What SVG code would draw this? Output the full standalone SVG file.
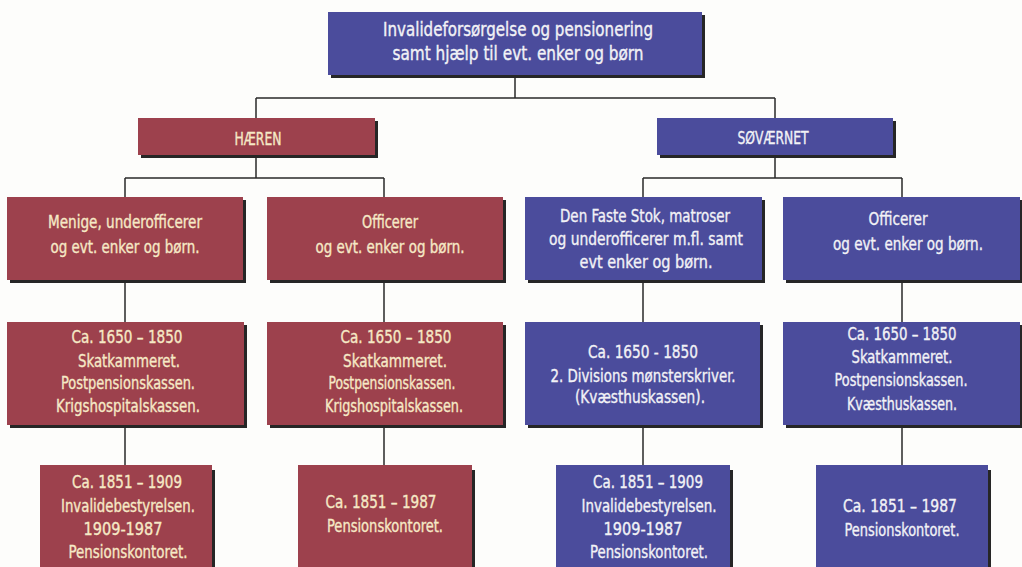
<svg xmlns="http://www.w3.org/2000/svg" width="1022" height="567" viewBox="0 0 1022 567">
<style>
.bg{fill:#fdfdfb}
.sh{fill:#262626}
.red{fill:#9d414d}
.blue{fill:#4b4c9c}
text{font-family:"DejaVu Sans Condensed","Liberation Sans Narrow","Liberation Sans",sans-serif;font-size:18px;text-anchor:middle;stroke-width:0.35px}
.tr{fill:#f6e9c6;stroke:#f6e9c6}
.tb{fill:#f2f2f6;stroke:#f2f2f6}
.big{font-size:19px}
.c{stroke:#2a2a2a;stroke-width:1.5;fill:none}
</style>
<rect class="bg" x="0" y="0" width="1022" height="567"/>
<g id="connectors">
<path class="c" d="M515 75V98M256 98H775M256 98V118M775 98V118"/>
<path class="c" d="M256 155V178M125 178H384M125 178V197M384 178V197"/>
<path class="c" d="M775 155V178M643 178H902M643 178V197M902 178V197"/>
<path class="c" d="M125 280V322M384 280V322M643 280V322M902 280V322"/>
<path class="c" d="M125 425V465M384 425V465M643 425V465M902 425V465"/>
</g>
<g id="root">
<rect class="sh" x="331" y="15" width="374" height="63"/>
<rect class="blue" x="328" y="12" width="374" height="63"/>
<text class="tb big" x="518" y="36" textLength="270" lengthAdjust="spacingAndGlyphs">Invalideforsørgelse og pensionering</text>
<text class="tb big" x="518" y="60" textLength="251" lengthAdjust="spacingAndGlyphs">samt hjælp til evt. enker og børn</text>
</g>
<g id="haeren">
<rect class="sh" x="141" y="121" width="237" height="37"/>
<rect class="red" x="138" y="118" width="237" height="37"/>
<text class="tr" x="258" y="145" textLength="47" lengthAdjust="spacingAndGlyphs">HÆREN</text>
</g>
<g id="sovaernet">
<rect class="sh" x="660" y="121" width="236" height="37"/>
<rect class="blue" x="657" y="118" width="236" height="37"/>
<text class="tb" x="773" y="144" textLength="71" lengthAdjust="spacingAndGlyphs">SØVÆRNET</text>
</g>
<g id="h-menige">
<rect class="sh" x="10" y="200" width="236" height="83"/>
<rect class="red" x="7" y="197" width="236" height="83"/>
<text class="tr" x="125" y="228" textLength="154" lengthAdjust="spacingAndGlyphs">Menige, underofficerer</text>
<text class="tr" x="125" y="253" textLength="149" lengthAdjust="spacingAndGlyphs">og evt. enker og børn.</text>
</g>
<g id="h-officerer">
<rect class="sh" x="270" y="200" width="236" height="83"/>
<rect class="red" x="267" y="197" width="236" height="83"/>
<text class="tr" x="390" y="228" textLength="56" lengthAdjust="spacingAndGlyphs">Officerer</text>
<text class="tr" x="390" y="253" textLength="149" lengthAdjust="spacingAndGlyphs">og evt. enker og børn.</text>
</g>
<g id="s-faste">
<rect class="sh" x="528" y="200" width="237" height="83"/>
<rect class="blue" x="525" y="197" width="237" height="83"/>
<text class="tb" x="645" y="222" textLength="170" lengthAdjust="spacingAndGlyphs">Den Faste Stok, matroser</text>
<text class="tb" x="646" y="245" textLength="194" lengthAdjust="spacingAndGlyphs">og underofficerer m.fl. samt</text>
<text class="tb" x="646" y="268" textLength="133" lengthAdjust="spacingAndGlyphs">evt enker og børn.</text>
</g>
<g id="s-officerer">
<rect class="sh" x="786" y="200" width="237" height="83"/>
<rect class="blue" x="783" y="197" width="237" height="83"/>
<text class="tb" x="898" y="225" textLength="59" lengthAdjust="spacingAndGlyphs">Officerer</text>
<text class="tb" x="908" y="250" textLength="150" lengthAdjust="spacingAndGlyphs">og evt. enker og børn.</text>
</g>
<g id="h-menige-1650">
<rect class="sh" x="10" y="325" width="237" height="103"/>
<rect class="red" x="7" y="322" width="237" height="103"/>
<text class="tr" x="127" y="343" textLength="111" lengthAdjust="spacingAndGlyphs">Ca. 1650 – 1850</text>
<text class="tr" x="129" y="367" textLength="102" lengthAdjust="spacingAndGlyphs">Skatkammeret.</text>
<text class="tr" x="128" y="389" textLength="134" lengthAdjust="spacingAndGlyphs">Postpensionskassen.</text>
<text class="tr" x="128" y="412" textLength="144" lengthAdjust="spacingAndGlyphs">Krigshospitalskassen.</text>
</g>
<g id="h-officerer-1650">
<rect class="sh" x="270" y="325" width="236" height="103"/>
<rect class="red" x="267" y="322" width="236" height="103"/>
<text class="tr" x="396" y="343" textLength="111" lengthAdjust="spacingAndGlyphs">Ca. 1650 – 1850</text>
<text class="tr" x="395" y="367" textLength="104" lengthAdjust="spacingAndGlyphs">Skatkammeret.</text>
<text class="tr" x="392" y="389" textLength="127" lengthAdjust="spacingAndGlyphs">Postpensionskassen.</text>
<text class="tr" x="394" y="412" textLength="138" lengthAdjust="spacingAndGlyphs">Krigshospitalskassen.</text>
</g>
<g id="s-faste-1650">
<rect class="sh" x="528" y="325" width="235" height="103"/>
<rect class="blue" x="525" y="322" width="235" height="103"/>
<text class="tb" x="643" y="358" textLength="110" lengthAdjust="spacingAndGlyphs">Ca. 1650 - 1850</text>
<text class="tb" x="643" y="382" textLength="185" lengthAdjust="spacingAndGlyphs">2. Divisions mønsterskriver.</text>
<text class="tb" x="640" y="403" textLength="130" lengthAdjust="spacingAndGlyphs">(Kvæsthuskassen).</text>
</g>
<g id="s-officerer-1650">
<rect class="sh" x="786" y="325" width="237" height="103"/>
<rect class="blue" x="783" y="322" width="237" height="103"/>
<text class="tb" x="902" y="340" textLength="109" lengthAdjust="spacingAndGlyphs">Ca. 1650 – 1850</text>
<text class="tb" x="902" y="363" textLength="101" lengthAdjust="spacingAndGlyphs">Skatkammeret.</text>
<text class="tb" x="901" y="386" textLength="133" lengthAdjust="spacingAndGlyphs">Postpensionskassen.</text>
<text class="tb" x="902" y="410" textLength="110" lengthAdjust="spacingAndGlyphs">Kvæsthuskassen.</text>
</g>
<g id="h-menige-1851">
<rect class="sh" x="43" y="470" width="172" height="100"/>
<rect class="red" x="40" y="465" width="172" height="105"/>
<text class="tr" x="127" y="488" textLength="110" lengthAdjust="spacingAndGlyphs">Ca. 1851 – 1909</text>
<text class="tr" x="128" y="512" textLength="134" lengthAdjust="spacingAndGlyphs">Invalidebestyrelsen.</text>
<text class="tr" x="123" y="535" textLength="79" lengthAdjust="spacingAndGlyphs">1909-1987</text>
<text class="tr" x="128" y="558" textLength="119" lengthAdjust="spacingAndGlyphs">Pensionskontoret.</text>
</g>
<g id="h-officerer-1851">
<rect class="sh" x="301" y="470" width="174" height="100"/>
<rect class="red" x="298" y="465" width="174" height="105"/>
<text class="tr" x="381" y="508" textLength="111" lengthAdjust="spacingAndGlyphs">Ca. 1851 – 1987</text>
<text class="tr" x="385" y="532" textLength="116" lengthAdjust="spacingAndGlyphs">Pensionskontoret.</text>
</g>
<g id="s-faste-1851">
<rect class="sh" x="559" y="470" width="174" height="100"/>
<rect class="blue" x="556" y="465" width="174" height="105"/>
<text class="tb" x="648" y="488" textLength="110" lengthAdjust="spacingAndGlyphs">Ca. 1851 – 1909</text>
<text class="tb" x="649" y="512" textLength="135" lengthAdjust="spacingAndGlyphs">Invalidebestyrelsen.</text>
<text class="tb" x="643" y="535" textLength="79" lengthAdjust="spacingAndGlyphs">1909-1987</text>
<text class="tb" x="649" y="558" textLength="118" lengthAdjust="spacingAndGlyphs">Pensionskontoret.</text>
</g>
<g id="s-officerer-1851">
<rect class="sh" x="819" y="470" width="172" height="100"/>
<rect class="blue" x="816" y="465" width="172" height="105"/>
<text class="tb" x="900" y="512" textLength="114" lengthAdjust="spacingAndGlyphs">Ca. 1851 – 1987</text>
<text class="tb" x="902" y="536" textLength="115" lengthAdjust="spacingAndGlyphs">Pensionskontoret.</text>
</g>
</svg>
